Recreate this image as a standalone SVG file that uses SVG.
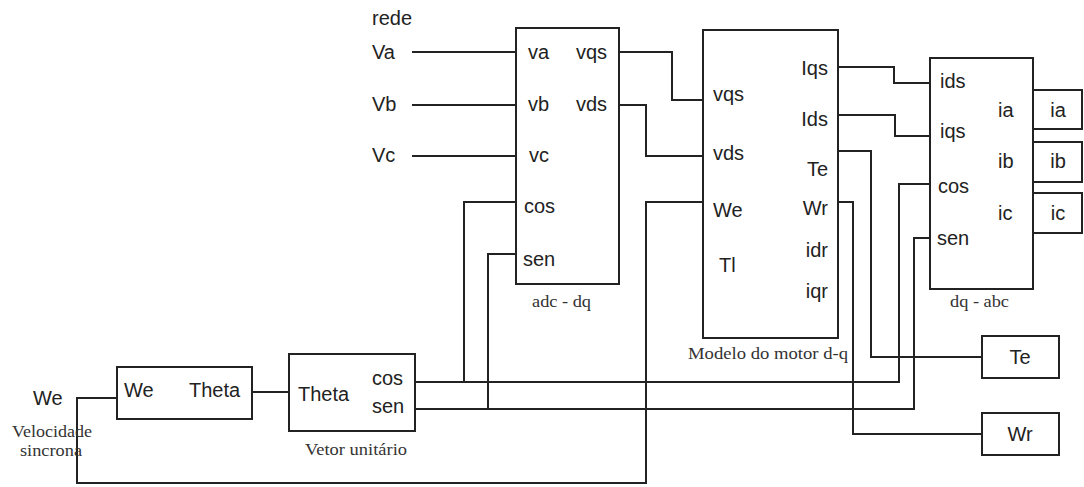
<svg xmlns="http://www.w3.org/2000/svg" width="1084" height="487" viewBox="0 0 1084 487">
<style>
.box{fill:#fff;stroke:#222;stroke-width:2}
.w{fill:none;stroke:#222;stroke-width:2}
.t{font-family:"Liberation Sans",Arial,sans-serif;font-size:20px;fill:#222}
.e{text-anchor:end}
.m{text-anchor:middle}
.s{font-family:"Liberation Serif","Times New Roman",serif;font-size:16px;fill:#333}
</style>
<rect width="1084" height="487" fill="#fff"/>
<g id="connectors">
<path class="w" d="M412,52H516"/>
<path class="w" d="M412,105H516"/>
<path class="w" d="M412,156H516"/>
<path class="w" d="M619,52H672V100H703"/>
<path class="w" d="M619,105H646V156H703"/>
<path class="w" d="M703,202H646V483H77V398H117"/>
<path class="w" d="M252,392H289"/>
<path class="w" d="M415,382H899V184H930"/>
<path class="w" d="M464,382V202H516"/>
<path class="w" d="M415,409H914V238H930"/>
<path class="w" d="M488,409V254H516"/>
<path class="w" d="M838,67H894V83H930"/>
<path class="w" d="M838,115H895V136H930"/>
<path class="w" d="M838,151H871V357H982"/>
<path class="w" d="M838,202H853V434H982"/>
</g>
<g id="inputs">
<text class="t" x="372" y="25">rede</text>
<text class="t" x="372" y="59">Va</text>
<text class="t" x="372" y="111">Vb</text>
<text class="t" x="372" y="162">Vc</text>
</g>
<g id="adc-dq">
<rect class="box" x="516" y="28" width="103" height="256"/>
<text class="t" x="528" y="59">va</text>
<text class="t" x="528" y="111">vb</text>
<text class="t" x="529" y="162">vc</text>
<text class="t" x="524" y="213">cos</text>
<text class="t" x="523" y="266">sen</text>
<text class="t" x="576" y="59">vqs</text>
<text class="t" x="576" y="111">vds</text>
<text class="s" x="532" y="307" textLength="59" lengthAdjust="spacingAndGlyphs">adc - dq</text>
</g>
<g id="motor">
<rect class="box" x="703" y="30" width="135" height="308"/>
<text class="t" x="713" y="101">vqs</text>
<text class="t" x="713" y="160">vds</text>
<text class="t" x="713" y="217">We</text>
<text class="t" x="719" y="272">Tl</text>
<text class="t e" x="828" y="75">Iqs</text>
<text class="t e" x="828" y="126">Ids</text>
<text class="t e" x="828" y="176">Te</text>
<text class="t e" x="828" y="215">Wr</text>
<text class="t e" x="828" y="257">idr</text>
<text class="t e" x="828" y="298">iqr</text>
<text class="s" x="688" y="359" textLength="160" lengthAdjust="spacingAndGlyphs">Modelo do motor d-q</text>
</g>
<g id="dq-abc">
<rect class="box" x="930" y="58" width="103" height="231"/>
<text class="t" x="940" y="88">ids</text>
<text class="t" x="940" y="138">iqs</text>
<text class="t" x="938" y="193">cos</text>
<text class="t" x="937" y="245">sen</text>
<text class="t" x="998" y="117">ia</text>
<text class="t" x="998" y="168">ib</text>
<text class="t" x="998" y="220">ic</text>
<text class="s" x="950" y="307" textLength="59" lengthAdjust="spacingAndGlyphs">dq - abc</text>
</g>
<g id="out-ia"><rect class="box" x="1033" y="90" width="49" height="39"/><text class="t m" x="1058" y="117">ia</text></g>
<g id="out-ib"><rect class="box" x="1033" y="142" width="49" height="40"/><text class="t m" x="1058" y="168">ib</text></g>
<g id="out-ic"><rect class="box" x="1033" y="193" width="49" height="40"/><text class="t m" x="1058" y="220">ic</text></g>
<g id="out-te"><rect class="box" x="982" y="336" width="77" height="42"/><text class="t m" x="1020" y="364">Te</text></g>
<g id="out-wr"><rect class="box" x="982" y="413" width="77" height="42"/><text class="t m" x="1020" y="441">Wr</text></g>
<g id="we-input">
<text class="t" x="33" y="405">We</text>
<text class="s" x="12" y="437" textLength="80" lengthAdjust="spacingAndGlyphs">Velocidade</text>
<text class="s" x="20" y="456" textLength="62" lengthAdjust="spacingAndGlyphs">sincrona</text>
</g>
<g id="integrator">
<rect class="box" x="117" y="367" width="135" height="52"/>
<text class="t" x="124" y="397">We</text>
<text class="t" x="189" y="397">Theta</text>
</g>
<g id="vetor-unitario">
<rect class="box" x="289" y="354" width="126" height="77"/>
<text class="t" x="298" y="401">Theta</text>
<text class="t" x="372" y="385">cos</text>
<text class="t" x="372" y="413">sen</text>
<text class="s" x="305" y="455" textLength="102" lengthAdjust="spacingAndGlyphs">Vetor unitário</text>
</g>
</svg>
